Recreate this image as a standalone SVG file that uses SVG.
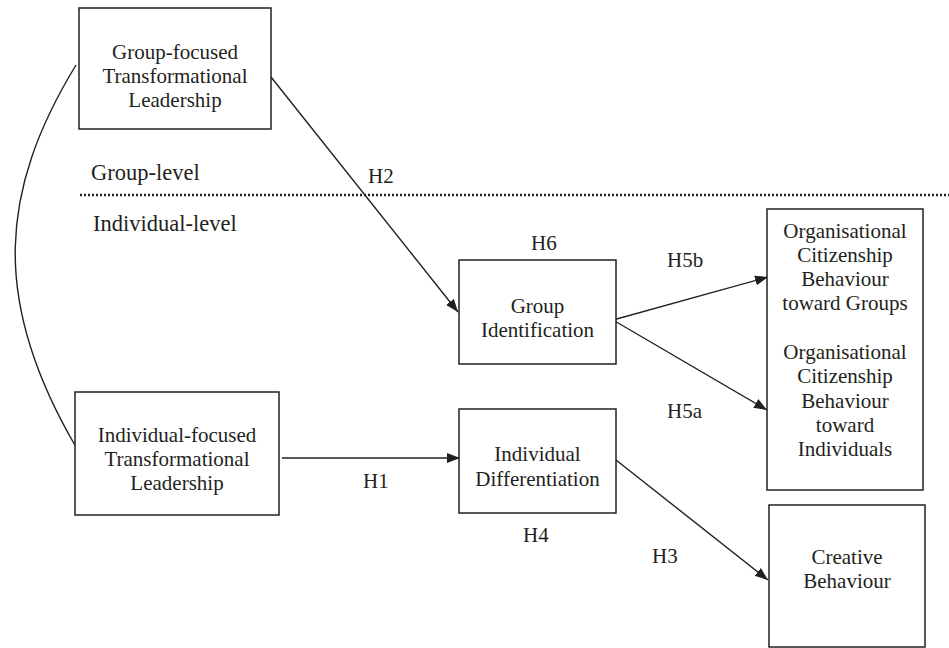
<svg xmlns="http://www.w3.org/2000/svg" width="949" height="648" viewBox="0 0 949 648">
<style>
  .box{fill:#fff;stroke:#231f20;stroke-width:1.5}
  .t{font-family:"Liberation Serif","Times New Roman",serif;font-size:21px;fill:#231f20;text-anchor:middle}
  .l{font-family:"Liberation Serif","Times New Roman",serif;font-size:21px;fill:#231f20}
  .lv{font-family:"Liberation Serif","Times New Roman",serif;font-size:22.5px;fill:#231f20}
  .c{fill:none;stroke:#231f20;stroke-width:1.4}
</style>
<defs>
  <marker id="ah" markerUnits="userSpaceOnUse" markerWidth="14" markerHeight="12" refX="13" refY="5" orient="auto" viewBox="0 0 14 10">
    <path d="M0,0 L13,5 L0,10 Z" fill="#231f20"/>
  </marker>
</defs>
<rect width="949" height="648" fill="#fff"/>
<g id="levels">
  <text class="lv" x="91" y="180">Group-level</text>
  <line x1="80" y1="195" x2="949" y2="195" stroke="#231f20" stroke-width="2.5" stroke-dasharray="2,2"/>
  <text class="lv" x="93" y="231">Individual-level</text>
</g>
<g id="connectors">
  <path class="c" d="M76,65 C0,190 -10,300 76,447"/>
  <line class="c" x1="271" y1="77" x2="458" y2="312" marker-end="url(#ah)"/>
  <line class="c" x1="282" y1="458" x2="460" y2="458" marker-end="url(#ah)"/>
  <line class="c" x1="613" y1="320" x2="768" y2="277" marker-end="url(#ah)"/>
  <line class="c" x1="613" y1="320" x2="767" y2="410" marker-end="url(#ah)"/>
  <line class="c" x1="616" y1="460" x2="768" y2="580" marker-end="url(#ah)"/>
  <text class="l" x="368" y="183">H2</text>
  <text class="l" x="531" y="250">H6</text>
  <text class="l" x="667" y="267">H5b</text>
  <text class="l" x="667" y="418">H5a</text>
  <text class="l" x="363" y="488">H1</text>
  <text class="l" x="523" y="542">H4</text>
  <text class="l" x="652" y="563">H3</text>
</g>
<g id="group-tl">
  <rect class="box" x="79" y="8" width="192" height="121"/>
  <text class="t" x="175" y="59">Group-focused</text>
  <text class="t" x="175" y="83">Transformational</text>
  <text class="t" x="175" y="107">Leadership</text>
</g>
<g id="individual-tl">
  <rect class="box" x="75" y="392" width="204" height="123"/>
  <text class="t" x="177" y="442">Individual-focused</text>
  <text class="t" x="177" y="466">Transformational</text>
  <text class="t" x="177" y="490">Leadership</text>
</g>
<g id="group-identification">
  <rect class="box" x="459" y="260" width="157" height="104"/>
  <text class="t" x="537.5" y="313">Group</text>
  <text class="t" x="537.5" y="337">Identification</text>
</g>
<g id="individual-differentiation">
  <rect class="box" x="459" y="409" width="157" height="104"/>
  <text class="t" x="537.5" y="461">Individual</text>
  <text class="t" x="537.5" y="486">Differentiation</text>
</g>
<g id="ocb">
  <rect class="box" x="767" y="209" width="156" height="281"/>
  <text class="t" x="845" y="238">Organisational</text>
  <text class="t" x="845" y="262">Citizenship</text>
  <text class="t" x="845" y="286">Behaviour</text>
  <text class="t" x="845" y="310">toward Groups</text>
  <text class="t" x="845" y="359">Organisational</text>
  <text class="t" x="845" y="383">Citizenship</text>
  <text class="t" x="845" y="408">Behaviour</text>
  <text class="t" x="845" y="432">toward</text>
  <text class="t" x="845" y="456">Individuals</text>
</g>
<g id="creative">
  <rect class="box" x="769" y="505" width="156" height="142"/>
  <text class="t" x="847" y="564">Creative</text>
  <text class="t" x="847" y="588">Behaviour</text>
</g>
</svg>
